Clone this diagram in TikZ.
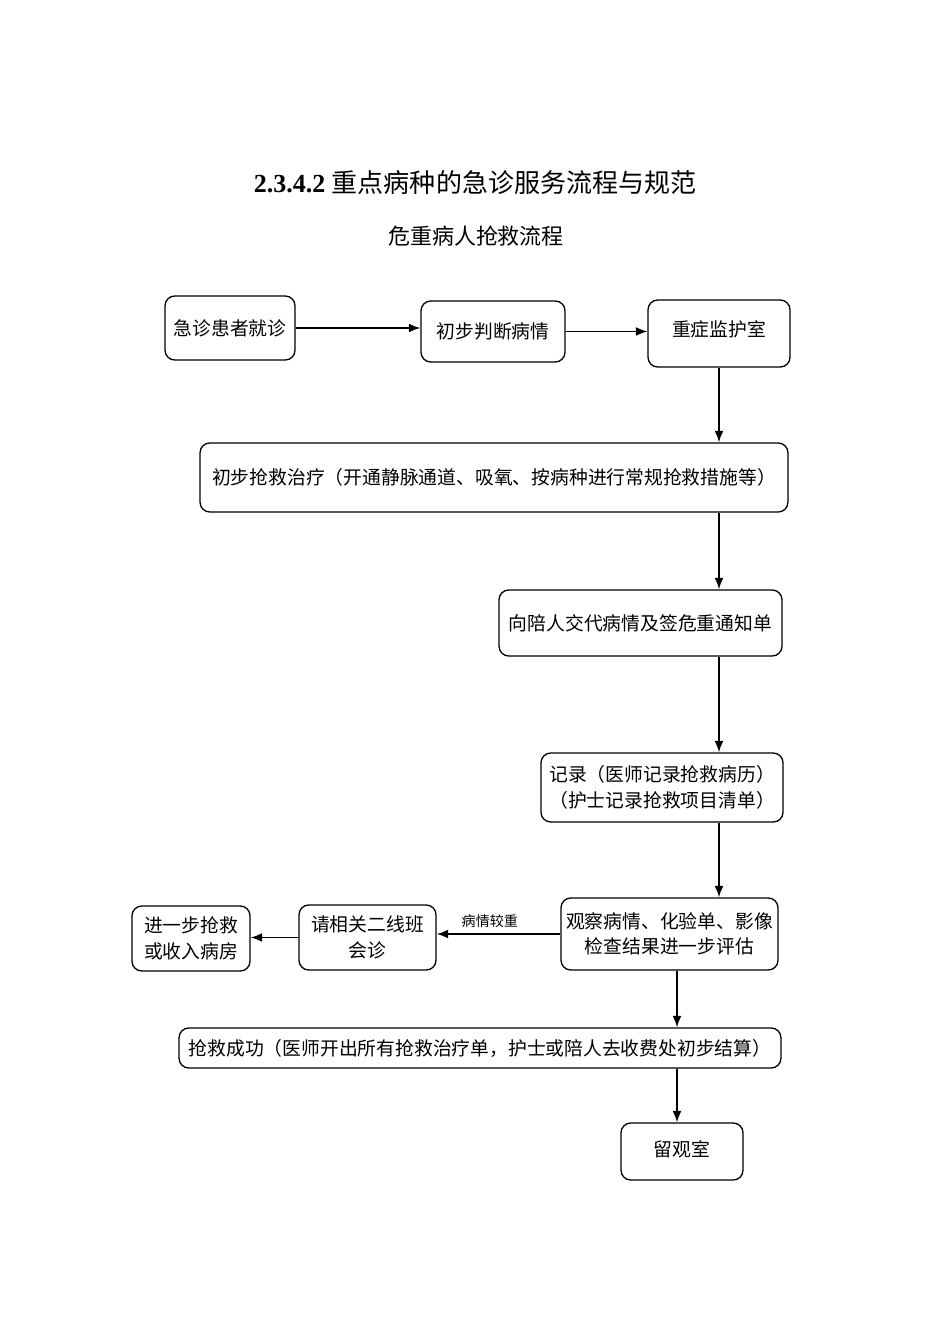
\documentclass[tikz,border=0pt]{standalone}
\usepackage{fontspec}
\setmainfont{Liberation Serif}
\newfontfamily\cjk{Noto Sans CJK SC}
\usepackage{tikz}
\usetikzlibrary{arrows.meta}

\begin{document}
\begin{tikzpicture}[x=0.02cm,y=-0.02cm,>={Latex[length=6.5pt,width=5pt]}]
\tikzset{
    stepbox/.style={%
        draw=black, line width=0.75pt,
        rectangle,
        rounded corners=5.5pt,
        inner sep=0pt,
        align=center,
        font=\cjk\fontsize{10.7}{14.5}\selectfont
        },
    flow/.style={%
        ->, line width=0.85pt
        },
}
\useasboundingbox (0,0) rectangle (950,1344);
%%%TITLES
\node (title) at (475,183) {\fontsize{14.8}{18}\selectfont\textbf{2.3.4.2} {\cjk 重点病种的急诊服务流程与规范}};
\node[font=\cjk\fontsize{12.5}{15}\selectfont] (subtitle) at (476,236) {危重病人抢救流程};
%%%BOXES
\node[stepbox, minimum width=2.6cm, minimum height=1.28cm] (visit) at (230,328) {急诊患者就诊};
\node[stepbox, minimum width=2.88cm, minimum height=1.22cm] (judge) at (493,331.5) {初步判断病情};
\node[stepbox, minimum width=2.84cm, minimum height=1.34cm] (icu) at (719,333.5) {\raisebox{6pt}{重症监护室}};
\node[stepbox, minimum width=11.76cm, minimum height=1.38cm] (treat) at (494,477.5) {初步抢救治疗（开通静脉通道、吸氧、按病种进行常规抢救措施等）};
\node[stepbox, minimum width=5.66cm, minimum height=1.32cm] (inform) at (640.5,623) {向陪人交代病情及签危重通知单};
\node[stepbox, minimum width=4.84cm, minimum height=1.38cm] (record) at (662,787.5) {记录（医师记录抢救病历）\\（护士记录抢救项目清单）};
\node[stepbox, minimum width=4.34cm, minimum height=1.44cm] (observe) at (669.5,934) {观察病情、化验单、影像\\检查结果进一步评估};
\node[stepbox, minimum width=2.74cm, minimum height=1.30cm] (consult) at (367.5,937.5) {请相关二线班\\会诊};
\node[stepbox, minimum width=2.36cm, minimum height=1.30cm] (admit) at (191,938.5) {进一步抢救\\或收入病房};
\node[stepbox, minimum width=12.04cm, minimum height=0.80cm] (success) at (480,1048) {抢救成功（医师开出所有抢救治疗单，护士或陪人去收费处初步结算）};
\node[stepbox, minimum width=2.44cm, minimum height=1.14cm] (ward) at (682,1151.5) {\raisebox{3pt}{留观室}};
\coordinate (lane) at (677,0);
%%%ARROWS
\draw[flow] (visit.east) -- (visit.east -| judge.west);
\draw[flow] (judge.east) -- (judge.east -| icu.west);
\draw[flow] (icu.south) -- (icu.south |- treat.north);
\draw[flow] (treat.south -| icu) -- (inform.north -| icu);
\draw[flow] (inform.south -| icu) -- (record.north -| icu);
\draw[flow] (record.south -| icu) -- (observe.north -| icu);
\draw[flow] (observe.west) -- (observe.west -| consult.east)
    node[pos=0.57, above=0pt, font=\cjk\fontsize{8}{9}\selectfont] (heavy) {病情较重};
\draw[flow] (consult.west) -- (consult.west -| admit.east);
\draw[flow] (observe.south -| lane) -- (success.north -| lane);
\draw[flow] (success.south -| lane) -- (ward.north -| lane);
\end{tikzpicture}
\end{document}
